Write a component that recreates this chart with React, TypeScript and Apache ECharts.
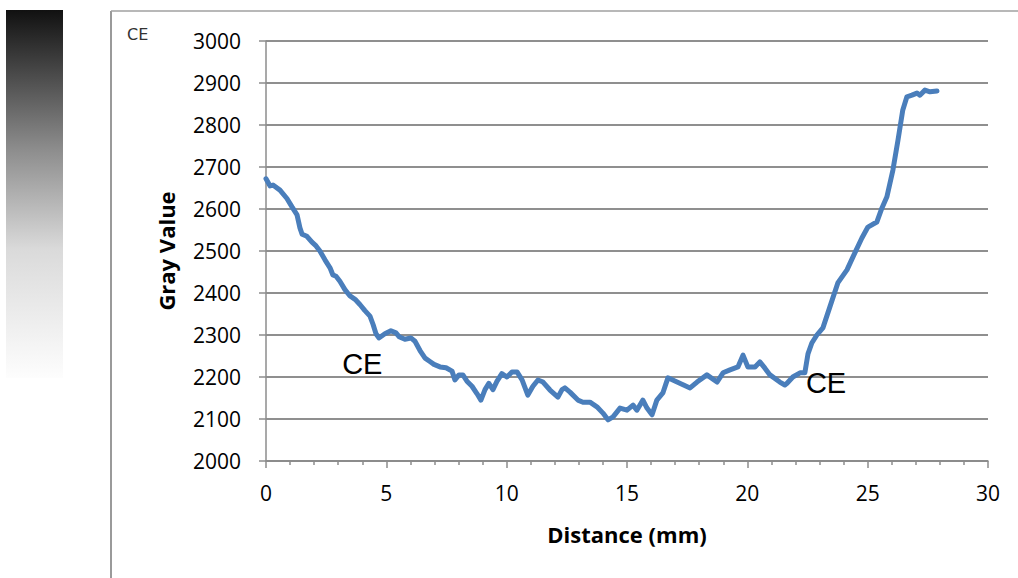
import React, { useEffect, useRef } from "react";
import * as echarts from "echarts";

const distance: number[] = [
  0, 0.17, 0.29, 0.58, 0.87, 1.08, 1.29, 1.41, 1.5, 1.7, 1.91, 2.08, 2.24, 2.45, 2.66, 2.78, 2.91,
  3.07, 3.28, 3.49, 3.7, 3.91, 4.11, 4.32, 4.45, 4.57, 4.69, 4.94, 5.19, 5.4, 5.53, 5.77, 6.02,
  6.19, 6.4, 6.61, 6.81, 6.98, 7.23, 7.48, 7.73, 7.85, 8.02, 8.18, 8.35, 8.56, 8.77, 8.93, 9.1,
  9.26, 9.43, 9.6, 9.8, 10.01, 10.22, 10.43, 10.64, 10.88, 11.09, 11.3, 11.51, 11.8, 12.13, 12.3,
  12.42, 12.63, 12.96, 13.17, 13.46, 13.75, 14.0, 14.21, 14.42, 14.71, 15.0, 15.25, 15.41, 15.66,
  15.83, 16.04, 16.24, 16.49, 16.7, 17.08, 17.62, 17.91, 18.32, 18.74, 18.99, 19.28, 19.61, 19.82,
  20.02, 20.32, 20.52, 20.73, 20.94, 21.35, 21.56, 21.65, 21.89, 22.19, 22.39, 22.52, 22.68,
  22.89, 23.14, 23.43, 23.76, 24.14, 24.39, 24.76, 25.01, 25.38, 25.59, 25.8, 26.05, 26.26,
  26.46, 26.63, 26.84, 27.05, 27.17, 27.38, 27.59, 27.88,
];

const grayValue: number[] = [
  2672, 2655, 2657, 2645, 2625, 2605, 2586, 2555, 2540, 2535, 2521, 2512, 2500, 2479, 2460, 2443,
  2440, 2428, 2408, 2393, 2385, 2372, 2358, 2345, 2325, 2303, 2293, 2303, 2310, 2305, 2296, 2290,
  2293, 2285, 2263, 2245, 2237, 2230, 2224, 2222, 2214, 2193, 2205, 2205, 2190, 2178, 2160, 2145,
  2170, 2185, 2170, 2190, 2208, 2200, 2212, 2212, 2193, 2157, 2178, 2193, 2188, 2169, 2152, 2170,
  2174, 2164, 2145, 2140, 2140, 2129, 2114, 2098, 2105, 2126, 2121, 2133, 2121, 2145, 2126, 2110,
  2145, 2162, 2198, 2188, 2174, 2188, 2205, 2188, 2210, 2217, 2224, 2252, 2224, 2224, 2236, 2221,
  2205, 2188, 2181, 2185, 2200, 2210, 2210, 2255, 2281, 2300, 2317, 2367, 2424, 2455, 2486, 2531,
  2557, 2569, 2602, 2629, 2693, 2764, 2836, 2867, 2871, 2876, 2871, 2883, 2879, 2881,
];

const annotationLabels: string[] = ["CE", "CE"];
const annotationX: number[] = [4.0, 23.27];
const annotationY: number[] = [2231, 2186];

const xTitle = "Distance (mm)";
const yTitle = "Gray Value";
const cornerLabel = "CE";

export default function App() {
  const ref = useRef<HTMLDivElement>(null);
  useEffect(() => {
    if (!ref.current) return;
    const chart = echarts.init(ref.current, undefined, { renderer: "svg" });
    const font = "'Open Sans', Lato, sans-serif";
    chart.setOption({
      animation: false,
      backgroundColor: "#ffffff",
      grid: { left: 266, right: 30, top: 41, bottom: 117 },
      graphic: [
        {
          type: "rect",
          shape: { x: 6, y: 10, width: 57, height: 368 },
          style: {
            fill: new echarts.graphic.LinearGradient(0, 0, 0, 1, [
              { offset: 0, color: "#111111" },
              { offset: 0.38, color: "#8d8d8d" },
              { offset: 0.65, color: "#dadada" },
              { offset: 1, color: "#fdfdfd" },
            ]),
          },
        },
        {
          type: "line",
          shape: { x1: 111, y1: 11, x2: 111, y2: 578 },
          style: { stroke: "#9a9a9a", lineWidth: 2 },
        },
        {
          type: "line",
          shape: { x1: 111, y1: 11, x2: 1018, y2: 11 },
          style: { stroke: "#a0a0a0", lineWidth: 1.5 },
        },
        {
          type: "text",
          x: 127,
          y: 34,
          style: {
            text: cornerLabel,
            fill: "#333333",
            font: "16px 'DejaVu Sans', sans-serif",
            textVerticalAlign: "middle",
          },
        },
      ],
      xAxis: {
        type: "value",
        min: 0,
        max: 30,
        interval: 5,
        name: xTitle,
        nameLocation: "middle",
        nameGap: 62,
        nameTextStyle: { fontFamily: font, fontWeight: "bold", fontSize: 22, color: "#000" },
        axisLine: { show: true, lineStyle: { color: "#8c8c8c", width: 1.5 } },
        axisTick: { show: true, length: 7, lineStyle: { color: "#8c8c8c", width: 1.5 } },
        minorTick: { show: true, splitNumber: 5, length: 4, lineStyle: { color: "#8c8c8c", width: 1.5 } },
        axisLabel: { fontFamily: font, fontSize: 21, color: "#000", margin: 21 },
        splitLine: { show: false },
      },
      yAxis: {
        type: "value",
        min: 2000,
        max: 3000,
        interval: 100,
        name: yTitle,
        nameLocation: "middle",
        nameGap: 89,
        nameTextStyle: { fontFamily: font, fontWeight: "bold", fontSize: 22, color: "#000" },
        axisLine: { show: true, lineStyle: { color: "#8c8c8c", width: 1.5 } },
        axisTick: { show: true, length: 7, lineStyle: { color: "#8c8c8c", width: 1.5 } },
        axisLabel: {
          fontFamily: font,
          fontSize: 21,
          color: "#000",
          margin: 25,
          formatter: (v: number) => String(v),
        },
        splitLine: { show: true, lineStyle: { color: "#8f8f8f", width: 2 } },
      },
      series: [
        {
          type: "line",
          data: distance.map((d, i) => [d, grayValue[i]]),
          showSymbol: false,
          smooth: false,
          lineStyle: { color: "#4a7ebb", width: 5, join: "round", cap: "round" },
          itemStyle: { color: "#4a7ebb" },
          markPoint: {
            symbol: "circle",
            symbolSize: 1,
            itemStyle: { color: "rgba(0,0,0,0)" },
            label: {
              show: true,
              position: "inside",
              color: "#000",
              fontFamily: "'Liberation Sans', Arial, sans-serif",
              fontSize: 29,
              formatter: (p: any) => p.name,
            },
            data: annotationLabels.map((t, i) => ({ name: t, coord: [annotationX[i], annotationY[i]] })),
          },
        },
      ],
    });
    return () => chart.dispose();
  }, []);
  return (
    <div
      ref={ref}
      style={{ position: "fixed", left: 0, top: 0, width: 1018, height: 578 }}
    />
  );
}
